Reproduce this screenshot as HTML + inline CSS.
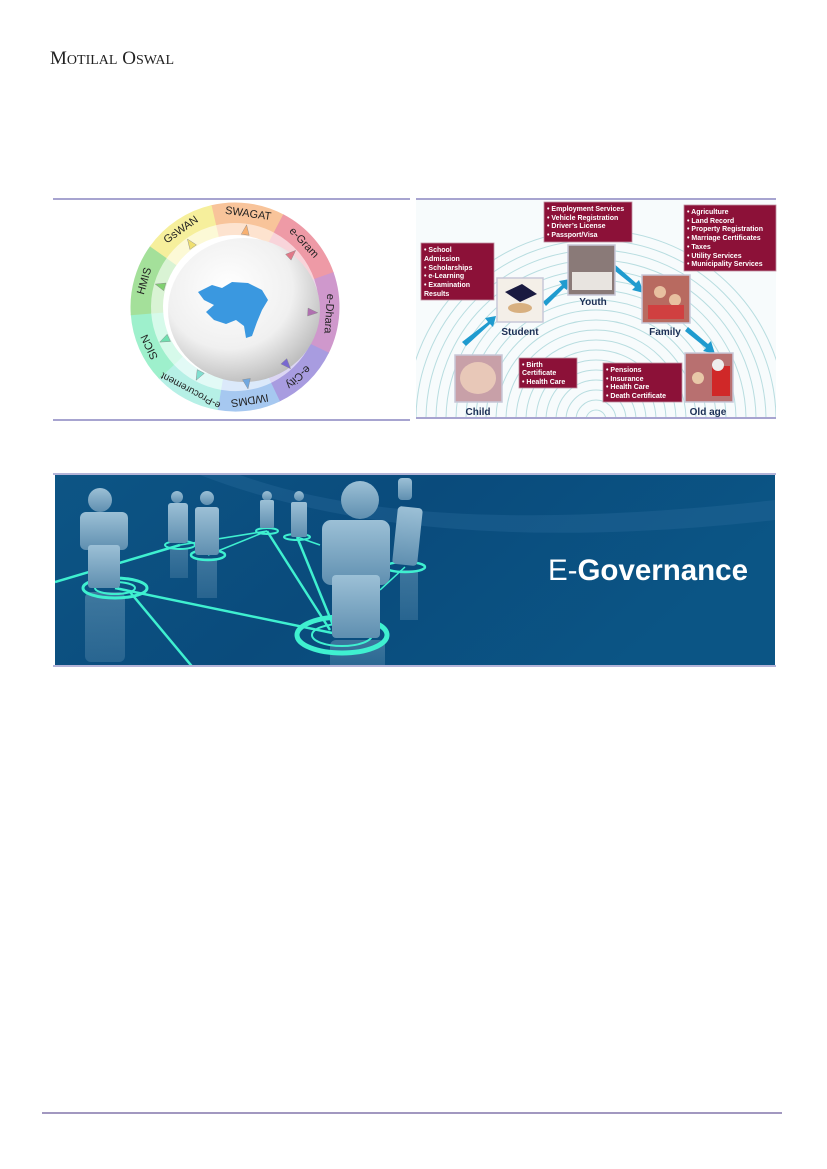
<!DOCTYPE html>
<html><head><meta charset="utf-8"><style>
html,body{margin:0;padding:0;background:#fff;}
body{width:827px;height:1169px;overflow:hidden;position:relative;}
</style></head><body>
<svg width="827" height="1169" viewBox="0 0 827 1169" xmlns="http://www.w3.org/2000/svg" style="position:absolute;left:0;top:0">
<defs>
<radialGradient id="sph" cx="0.4" cy="0.35" r="0.7">
<stop offset="0" stop-color="#ffffff"/><stop offset="0.6" stop-color="#f0f0f0"/><stop offset="1" stop-color="#b8b8b8"/>
</radialGradient>
<linearGradient id="ban" x1="0" y1="0" x2="1" y2="0.3">
<stop offset="0" stop-color="#0d5585"/><stop offset="0.5" stop-color="#0a4b7c"/><stop offset="1" stop-color="#0b5585"/>
</linearGradient>
<linearGradient id="fig" x1="0" y1="0" x2="0" y2="1">
<stop offset="0" stop-color="#9cc0d6"/><stop offset="1" stop-color="#5f8fb0"/>
</linearGradient>
<clipPath id="bc"><rect x="55" y="475" width="720" height="190"/></clipPath>
<clipPath id="rc"><rect x="416" y="200" width="360" height="217"/></clipPath>
</defs>

<text x="50" y="64" font-family="Liberation Serif, serif" font-size="19" fill="#222">M<tspan font-size="14">OTILAL</tspan> O<tspan font-size="14">SWAL</tspan></text>

<g stroke="#8a86c0" stroke-width="1.5">
<line x1="53" y1="199" x2="410" y2="199"/><line x1="53" y1="420" x2="410" y2="420"/>
<line x1="416" y1="199" x2="776" y2="199"/><line x1="416" y1="418" x2="776" y2="418"/>
</g>

<g fill="none" stroke-width="21">
<circle cx="235" cy="307" r="94" stroke="#f8c49a" stroke-dasharray="68.1 1000" transform="rotate(-103.5 235 307)"/>
<circle cx="235" cy="307" r="94" stroke="#ee9aa6" stroke-dasharray="71.4 1000" transform="rotate(-62.5 235 307)"/>
<circle cx="235" cy="307" r="94" stroke="#cf98cc" stroke-dasharray="75.4 1000" transform="rotate(-19.5 235 307)"/>
<circle cx="235" cy="307" r="94" stroke="#a89ce0" stroke-dasharray="64 1000" transform="rotate(26 235 307)"/>
<circle cx="235" cy="307" r="94" stroke="#a6c8f0" stroke-dasharray="58.2 1000" transform="rotate(64.5 235 307)"/>
<circle cx="235" cy="307" r="94" stroke="#b6f0e6" stroke-dasharray="61.5 1000" transform="rotate(99.5 235 307)"/>
<circle cx="235" cy="307" r="94" stroke="#9ef0cc" stroke-dasharray="64.8 1000" transform="rotate(136.5 235 307)"/>
<circle cx="235" cy="307" r="94" stroke="#a4e09a" stroke-dasharray="66.4 1000" transform="rotate(175.5 235 307)"/>
<circle cx="235" cy="307" r="94" stroke="#f6ef9c" stroke-dasharray="68.1 1000" transform="rotate(215.5 235 307)"/>
</g>
<g fill="none" stroke-width="12">
<circle cx="235" cy="307" r="78" stroke="#fde3cf" stroke-dasharray="56.5 1000" transform="rotate(-103.5 235 307)"/>
<circle cx="235" cy="307" r="78" stroke="#f8d4da" stroke-dasharray="59.2 1000" transform="rotate(-62.5 235 307)"/>
<circle cx="235" cy="307" r="78" stroke="#ecd4ea" stroke-dasharray="62.6 1000" transform="rotate(-19.5 235 307)"/>
<circle cx="235" cy="307" r="78" stroke="#dcd6f4" stroke-dasharray="53.1 1000" transform="rotate(26 235 307)"/>
<circle cx="235" cy="307" r="78" stroke="#dbe9fa" stroke-dasharray="48.3 1000" transform="rotate(64.5 235 307)"/>
<circle cx="235" cy="307" r="78" stroke="#e2faf6" stroke-dasharray="51.1 1000" transform="rotate(99.5 235 307)"/>
<circle cx="235" cy="307" r="78" stroke="#d6faea" stroke-dasharray="53.8 1000" transform="rotate(136.5 235 307)"/>
<circle cx="235" cy="307" r="78" stroke="#d9f3d4" stroke-dasharray="55.2 1000" transform="rotate(175.5 235 307)"/>
<circle cx="235" cy="307" r="78" stroke="#fcf9d6" stroke-dasharray="56.5 1000" transform="rotate(215.5 235 307)"/>
</g>
<g font-family="Liberation Sans, sans-serif" font-size="11" fill="#222" text-anchor="middle" dominant-baseline="central">
<text transform="translate(248.1,213.9) rotate(8)">SWAGAT</text>
<text transform="translate(303.7,242.9) rotate(47)">e-Gram</text>
<text transform="translate(328.8,313.6) rotate(94)">e-Dhara</text>
<text transform="translate(297.9,376.8) rotate(138)">e-City</text>
<text transform="translate(249.7,399.9) rotate(171)">IWDMS</text>
<text transform="translate(190.9,390) rotate(208)" font-size="10">e-Procurement</text>
<text transform="translate(149.8,346.8) rotate(245)">SICN</text>
<text transform="translate(144.7,281.1) rotate(286)">HMIS</text>
<text transform="translate(181.1,230) rotate(325)">GsWAN</text>
</g>
<ellipse cx="244" cy="310" rx="76" ry="72" fill="url(#sph)"/>
<g stroke="#888" stroke-width="0.4">
<polygon points="-4,-5 4,-5 0,5" fill="#f8b070" transform="translate(245.9,229.8) rotate(-172)"/>
<polygon points="-4,-5 4,-5 0,5" fill="#e07888" transform="translate(292,253.8) rotate(-133)"/>
<polygon points="-4,-5 4,-5 0,5" fill="#b070b0" transform="translate(312.8,312.4) rotate(-86)"/>
<polygon points="-4,-5 4,-5 0,5" fill="#7868d0" transform="translate(287.2,365) rotate(-42)"/>
<polygon points="-4,-5 4,-5 0,5" fill="#70a8e0" transform="translate(247.2,384) rotate(-9)"/>
<polygon points="-4,-5 4,-5 0,5" fill="#80e0d0" transform="translate(198.4,375.9) rotate(28)"/>
<polygon points="-4,-5 4,-5 0,5" fill="#70e0b0" transform="translate(164.3,340) rotate(65)"/>
<polygon points="-4,-5 4,-5 0,5" fill="#80d070" transform="translate(160,285.5) rotate(106)"/>
<polygon points="-4,-5 4,-5 0,5" fill="#f0e070" transform="translate(190.3,243.1) rotate(145)"/>
</g>
<path d="M198 292 L212 285 L222 288 L232 282 L248 283 L262 290 L268 300 L262 310 L257 322 L252 336 L246 338 L244 326 L236 320 L226 324 L214 320 L206 312 L214 305 L204 300 Z" fill="#3a98e0"/>

<rect x="416" y="200" width="360" height="217" fill="#f7fbfc"/>
<g clip-path="url(#rc)" fill="none" stroke="#b8dde0" stroke-width="1">
<circle cx="596" cy="420" r="10"/><circle cx="596" cy="420" r="20"/><circle cx="596" cy="420" r="30"/><circle cx="596" cy="420" r="40"/><circle cx="596" cy="420" r="50"/><circle cx="596" cy="420" r="60"/><circle cx="596" cy="420" r="70"/><circle cx="596" cy="420" r="80"/><circle cx="596" cy="420" r="90"/><circle cx="596" cy="420" r="100"/><circle cx="596" cy="420" r="110"/><circle cx="596" cy="420" r="120"/><circle cx="596" cy="420" r="130"/><circle cx="596" cy="420" r="140"/><circle cx="596" cy="420" r="150"/><circle cx="596" cy="420" r="160"/><circle cx="596" cy="420" r="170"/><circle cx="596" cy="420" r="180"/><circle cx="596" cy="420" r="190"/>
</g>
<g fill="#1f9bcf">
<polygon points="462,342 488,322 485,318 496,316 493,327 490,324 466,346"/>
<polygon points="543,302 562,285 559,281 570,279 567,290 564,288 546,306"/>
<polygon points="612,262 636,283 639,280 644,293 632,290 635,287 609,266"/>
<polygon points="688,327 708,344 711,341 715,354 703,351 706,348 685,331"/>
</g>
<g stroke="#c8c8d8" stroke-width="1.5">
<rect x="497" y="278" width="46" height="44" fill="#f4efe8"/>
<rect x="568" y="245" width="47" height="50" fill="#8a7a78"/>
<rect x="642" y="275" width="48" height="48" fill="#b86a60"/>
<rect x="455" y="355" width="47" height="47" fill="#c8a0a8"/>
<rect x="685" y="353" width="48" height="49" fill="#b87070"/>
</g>
<polygon points="505,292 522,284 537,294 520,302" fill="#1a1a40"/>
<ellipse cx="520" cy="308" rx="12" ry="5" fill="#d8b080"/>
<rect x="572" y="272" width="40" height="18" fill="#e8e4e0"/>
<circle cx="660" cy="292" r="6" fill="#e8c0a0"/><circle cx="675" cy="300" r="6" fill="#e8c0a0"/>
<rect x="648" y="305" width="36" height="14" fill="#d04040"/>
<ellipse cx="478" cy="378" rx="18" ry="16" fill="#e8c8b8"/>
<rect x="712" y="366" width="18" height="30" fill="#d02828"/><circle cx="718" cy="365" r="6" fill="#eeeeee"/><circle cx="698" cy="378" r="6" fill="#e8c8a8"/>

<g font-family="Liberation Sans, sans-serif" font-weight="bold" fill="#1c2f55" text-anchor="middle" font-size="10">
<text x="520" y="335">Student</text><text x="593" y="305">Youth</text><text x="665" y="335">Family</text>
<text x="478" y="415">Child</text><text x="708" y="415">Old age</text>
</g>
<g fill="#8c1138" stroke="#c090a0" stroke-width="0.8">
<rect x="544" y="202" width="88" height="40"/>
<rect x="684" y="205" width="92" height="66"/>
<rect x="421" y="243" width="73" height="57"/>
<rect x="519" y="358" width="58" height="30"/>
<rect x="603" y="363" width="79" height="39"/>
</g>
<g font-family="Liberation Sans, sans-serif" font-weight="bold" fill="#fff" font-size="7">
<text x="547" y="211">• Employment Services</text><text x="547" y="220">• Vehicle Registration</text><text x="547" y="228">• Driver’s License</text><text x="547" y="237">• Passport/Visa</text>
<text x="687" y="214">• Agriculture</text><text x="687" y="223">• Land Record</text><text x="687" y="231">• Property Registration</text><text x="687" y="240">• Marriage Certificates</text><text x="687" y="249">• Taxes</text><text x="687" y="258">• Utility Services</text><text x="687" y="266">• Municipality Services</text>
<text x="424" y="252">• School</text><text x="424" y="261">Admission</text><text x="424" y="270">• Scholarships</text><text x="424" y="278">• e-Learning</text><text x="424" y="287">• Examination</text><text x="424" y="296">Results</text>
<text x="522" y="367">• Birth</text><text x="522" y="375">Certificate</text><text x="522" y="384">• Health Care</text>
<text x="606" y="372">• Pensions</text><text x="606" y="381">• Insurance</text><text x="606" y="389">• Health Care</text><text x="606" y="398">• Death Certificate</text>
</g>

<line x1="53" y1="474" x2="776" y2="474" stroke="#6a6ab0" stroke-width="1"/>
<rect x="55" y="475" width="720" height="190" fill="url(#ban)"/>
<g clip-path="url(#bc)">
<path d="M200 475 Q420 560 775 520 L775 500 Q420 540 240 475Z" fill="#2a6e9e" opacity="0.35"/>
<g opacity="0.35" fill="url(#fig)">
<rect x="85" y="592" width="40" height="70" rx="6"/><rect x="330" y="640" width="55" height="30" rx="6"/><rect x="170" y="548" width="18" height="30"/><rect x="197" y="558" width="20" height="40"/><rect x="400" y="570" width="18" height="50"/>
</g>
<g stroke="#3ff0d0" stroke-width="2.5" fill="none">
<line x1="55" y1="582" x2="180" y2="545"/>
<line x1="115" y1="588" x2="342" y2="635"/>
<line x1="130" y1="592" x2="195" y2="670"/>
<line x1="180" y1="545" x2="267" y2="531" stroke-width="1.5"/>
<line x1="208" y1="555" x2="267" y2="531" stroke-width="1.5"/>
<line x1="267" y1="531" x2="330" y2="630"/>
<line x1="297" y1="537" x2="335" y2="630"/>
<line x1="297" y1="537" x2="320" y2="545" stroke-width="1.5"/>
<line x1="380" y1="590" x2="405" y2="567" stroke-width="1.5"/>
</g>
<g fill="none" stroke="#3ff0d0">
<ellipse cx="115" cy="588" rx="32" ry="10" stroke-width="3"/><ellipse cx="115" cy="588" rx="20" ry="6" stroke-width="2"/>
<ellipse cx="180" cy="545" rx="15" ry="4" stroke-width="2"/>
<ellipse cx="208" cy="555" rx="17" ry="5" stroke-width="2.5"/>
<ellipse cx="267" cy="531" rx="11" ry="3" stroke-width="2"/>
<ellipse cx="297" cy="537" rx="13" ry="3" stroke-width="2"/>
<ellipse cx="342" cy="635" rx="45" ry="18" stroke-width="5"/><ellipse cx="342" cy="635" rx="30" ry="11" stroke-width="2"/>
<ellipse cx="405" cy="567" rx="20" ry="5" stroke-width="2.5"/>
</g>
<g fill="url(#fig)">
<circle cx="100" cy="500" r="12"/><rect x="80" y="512" width="48" height="38" rx="6"/><rect x="88" y="545" width="32" height="43" rx="3"/>
<circle cx="177" cy="497" r="6"/><rect x="168" y="503" width="20" height="40" rx="3"/>
<circle cx="207" cy="498" r="7"/><rect x="195" y="507" width="24" height="48" rx="3"/>
<circle cx="267" cy="496" r="5"/><rect x="260" y="500" width="14" height="28" rx="2"/>
<circle cx="299" cy="496" r="5"/><rect x="291" y="502" width="16" height="35" rx="2"/>
<rect x="398" y="478" width="14" height="22" rx="4"/><rect x="395" y="507" width="25" height="58" rx="4" transform="rotate(6 407 536)"/>
<circle cx="360" cy="500" r="19"/><rect x="322" y="520" width="68" height="65" rx="9"/><rect x="332" y="575" width="48" height="63" rx="4"/>
</g>
</g>
<line x1="53" y1="666" x2="776" y2="666" stroke="#6a6ab0" stroke-width="1"/>
<text x="548" y="580" font-family="Liberation Sans, sans-serif" font-size="30" fill="#fff" textLength="200" lengthAdjust="spacingAndGlyphs">E-<tspan font-weight="bold">Governance</tspan></text>

<line x1="42" y1="1113" x2="782" y2="1113" stroke="#6a5a9a" stroke-width="1.3"/>
</svg>
</body></html>
